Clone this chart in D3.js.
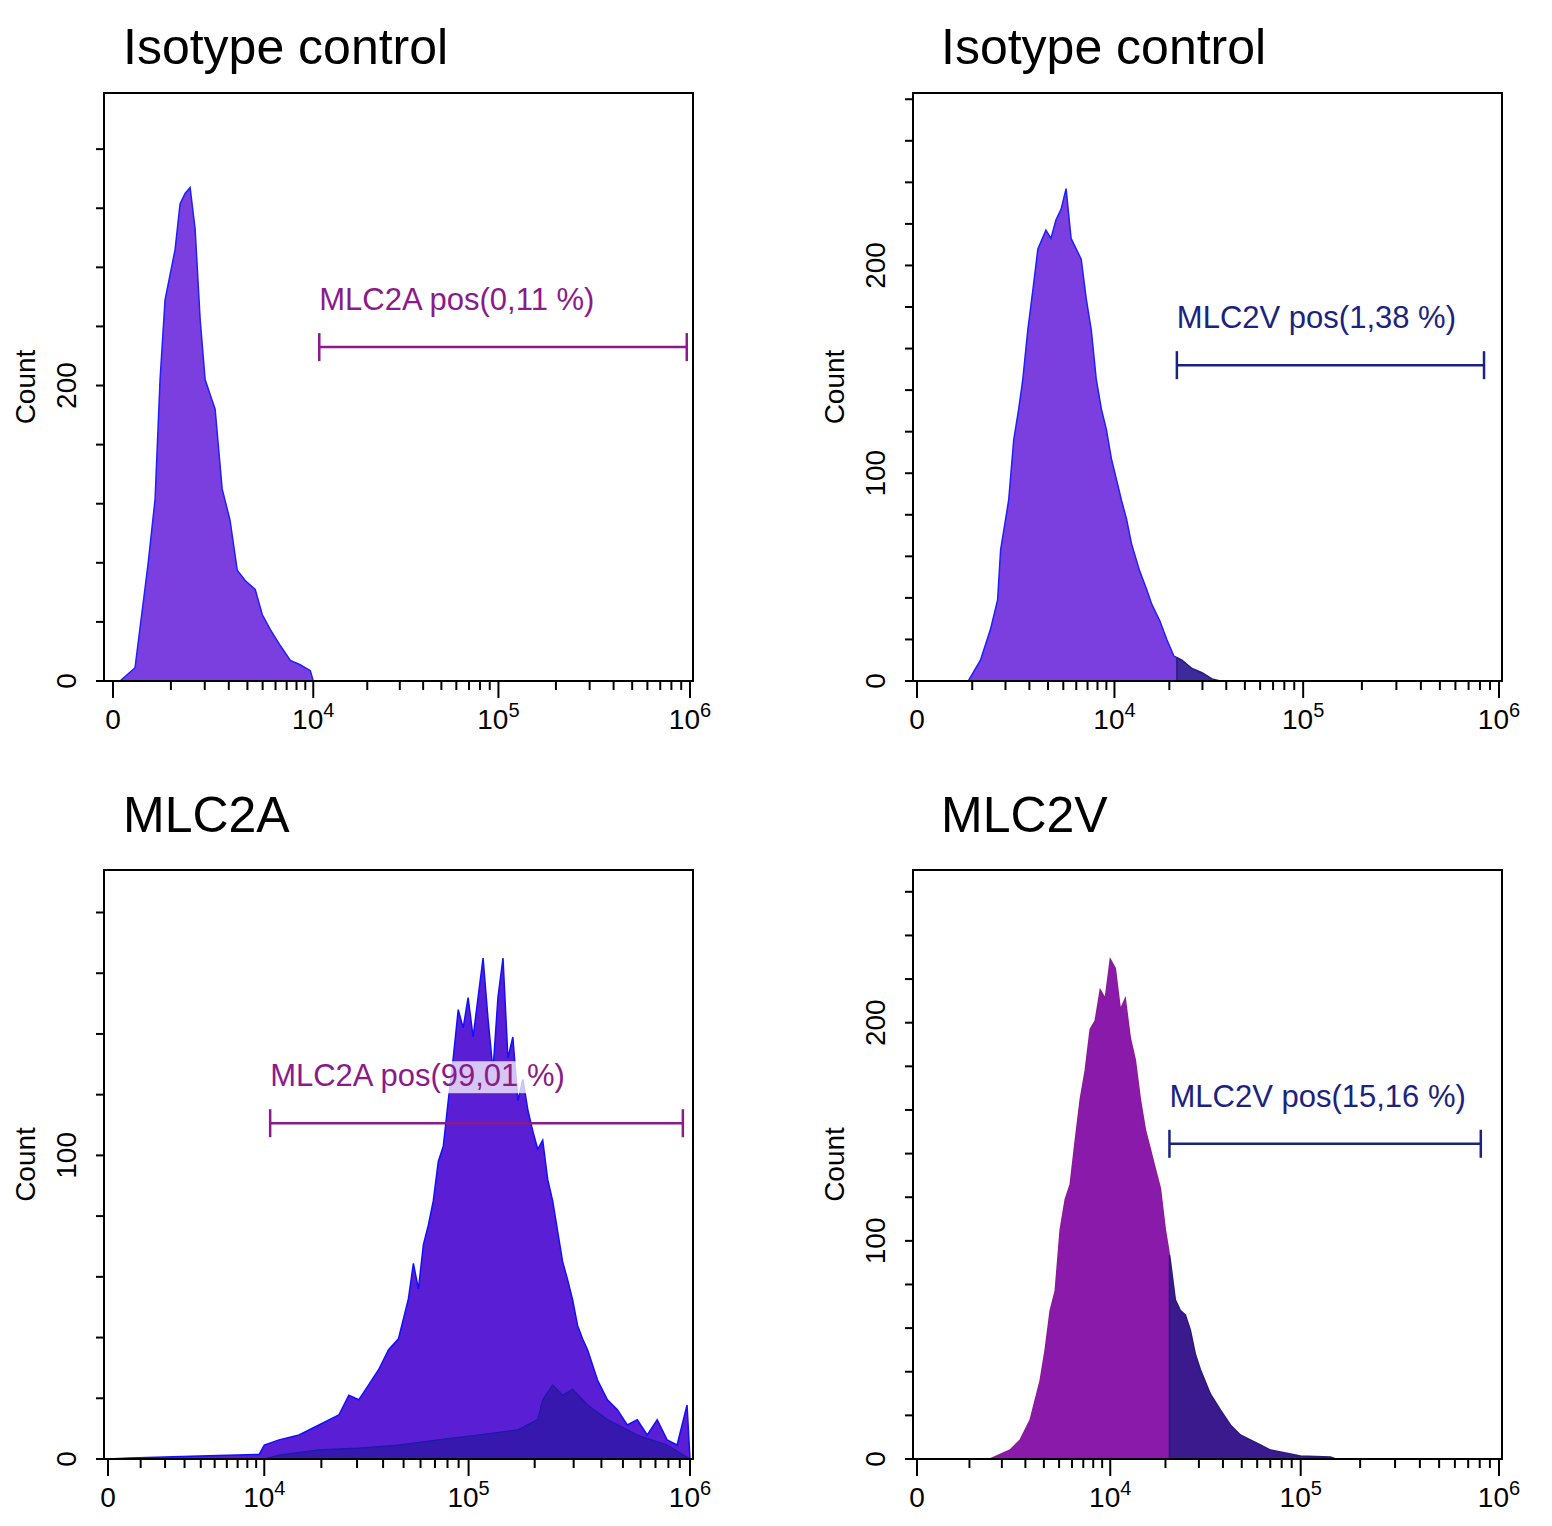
<!DOCTYPE html>
<html><head><meta charset="utf-8">
<script src="https://cdn.jsdelivr.net/npm/d3@7"></script>
<style>body{margin:0;background:#fff}text{font-family:"Liberation Sans",Arial,sans-serif}</style>
</head><body><svg id="c" width="1552" height="1526"></svg>
<script>
// ---- data ----
const titles = ["Isotype control","Isotype control","MLC2A","MLC2V"];
const gateLabels = ["MLC2A pos(0,11 %)","MLC2V pos(1,38 %)","MLC2A pos(99,01 %)","MLC2V pos(15,16 %)"];
const gateRange = [[10820,962000],[21950,839000],[10780,929000],[21000,810000]];
const gateCount = [226,152,110.6,144.5];
const yTickLabels = [[0,200],[0,100,200],[0,100],[0,100,200]];
const xMajor = [0,1e4,1e5,1e6];

const tlX = [0,88,302,521,655,757,865,1103,1233,1371,1517,1673,1838,2013,2199,2397,2695,3058,3426,3866,4490,4971,5569,6407,7357,8404,9620,10000];
const tlY = [0,0,9,79,123,204,258,292,323,330,334,306,245,204,194,184,130,109,75,68,62,45,35,24,14,11,7,0];

const trX = [906,1212,1502,1726,1827,2117,2312,2519,2694,2925,3169,3429,3875,4178,4499,4840,5200,5580,5990,6420,6875,7360,7875,8420,9000,9610,10260,10950,11680,12460,13800,15090,16070,17770,19390,21150,23350,26400,29850,33700,37200];
const trY = [0,10,25,39,63,87,116,131,145,169,188,208,217,213,222,227,237,213,208,203,184,169,145,131,121,107,97,87,78,66,53,44,37,29,20,12,10,6,4,1,0];

const blX = [0,632,3920,9365,10000,12060,15380,19440,24440,27360,30560,34120,38070,42450,47300,52670,55560,58640,61860,65220,68760,72550,76500,80630,84980,89640,94460,99500,104900,110500,116500,122700,129300,136200,143600,151200,159200,167800,176800,186200,196100,206500,217400,229100,241200,254000,267500,281800,296700,312400,329000,346500,384200,425800,472000,523000,580000,642800,712500,789500,875200,970000,1000000];
const blY = [0,0.3,1,1.5,4.6,6.3,7.9,11.2,14.5,21,19.5,24.4,29.4,36,39.6,52.8,64.4,56,70.6,77,85,98,103,118,132,148,142,152,139,152,165,145,128,152,165,132,139,118,125,115,108,102,105,92,85,75,65,59,52.5,44,39.6,36,26,19.5,16.2,11.2,12.9,7.9,12.9,6.3,4.6,17.8,0];
const bl2X = [10000,12060,19440,30560,47300,72550,110500,167800,206500,217400,241200,267500,296700,346500,425800,580000,789500,1000000];
const bl2Y = [0,1.3,3,3.6,4.6,6.3,7.9,9.6,13,19.5,24.4,21,23,17.8,13,7.9,4.6,0];

const brX = [1594,2321,2753,3239,3503,3784,4078,4393,4727,5080,5455,5852,6272,6720,7184,7685,8215,8778,9372,10008,10670,11385,12120,12915,13760,14650,15600,16600,17660,18790,19970,21230,22570,23990,25490,27080,28770,30540,34440,38820,43740,49200,55400,62400,70200,78960,99800,141700,150200];
const brY = [0,4.1,8.7,17.9,27,36,50,68,77,105,119,126,146,165,178,197,201,215,211,229,225,206,211,193,183,165,151,142,133,124,105,91,73,68,66,59,48,41,29.8,22.5,15.6,11,8.7,6.4,4.1,3.2,1.4,0.9,0];

// ---- layout ----
const panels = [
 {x0:104,x1:693,y0:93,y1:681,zero:113,c:1000,yMax:398,step:40,ty:50,tx:19,xs:tlX,ys:tlY,fill:"#7b3fe0",stroke:"#1f1fff",gate:"#8b1a8b",split:null},
 {x0:913,x1:1502,y0:93,y1:681,zero:917,c:1100,yMax:283,step:20,ty:50,tx:28,xs:trX,ys:trY,fill:"#7b3fe0",stroke:"#1f1fff",gate:"#1a237e",split:"#3d2a9c"},
 {x0:104,x1:693,y0:870,y1:1459,zero:108,c:2500,yMax:194,step:20,ty:818,tx:19,xs:blX,ys:blY,fill:"#5a1ed4",stroke:"#1010ff",gate:"#8b1a8b",split:null,over:true},
 {x0:913,x1:1502,y0:870,y1:1459,zero:917,c:1200,yMax:270,step:20,ty:818,tx:28,xs:brX,ys:brY,fill:"#8a1aaa",stroke:"#8b1a9b",gate:"#1a237e",split:"#3a1a8c"}
];
const svg = d3.select("#c");
const defs = svg.append("defs");
panels.forEach((p,i)=>{
  const x = d3.scaleSymlog().constant(p.c).domain([0,1e6]).range([p.zero, p.x1-3]);
  const y = d3.scaleLinear().domain([0,p.yMax]).range([p.y1,p.y0]);
  const g = svg.append("g");
  const data = p.xs.map((v,j)=>[v,p.ys[j]]);
  const area = d3.area().x(d=>x(d[0])).y0(y(0)).y1(d=>y(d[1]));
  const line = d3.line().x(d=>x(d[0])).y(d=>y(d[1]));
  const gx = x(gateRange[i][0]);
  if(p.split){
    defs.append("clipPath").attr("id","L"+i).append("rect").attr("x",0).attr("y",0).attr("width",gx).attr("height",1526);
    defs.append("clipPath").attr("id","R"+i).append("rect").attr("x",gx).attr("y",0).attr("width",1552-gx).attr("height",1526);
    g.append("path").datum(data).attr("d",area).attr("fill",p.fill).attr("clip-path",`url(#L${i})`);
    g.append("path").datum(data).attr("d",area).attr("fill",p.split).attr("clip-path",`url(#R${i})`);
    g.append("path").datum(data).attr("d",line).attr("fill","none").attr("stroke",p.stroke).attr("stroke-width",1.5).attr("clip-path",`url(#L${i})`);
    g.append("path").datum(data).attr("d",line).attr("fill","none").attr("stroke","#2a1a80").attr("stroke-width",1.5).attr("clip-path",`url(#R${i})`);
    const gv = gateRange[i][0], k = d3.bisectLeft(p.xs, gv);
    const t = (gv-p.xs[k-1])/(p.xs[k]-p.xs[k-1]);
    const hv = p.ys[k-1] + t*(p.ys[k]-p.ys[k-1]);
    g.append("line").attr("x1",gx).attr("x2",gx).attr("y1",y(0)).attr("y2",y(hv)).attr("stroke","#2a1a80").attr("stroke-width",1.5);
  } else {
    g.append("path").datum(data).attr("d",area).attr("fill",p.fill);
    g.append("path").datum(data).attr("d",line).attr("fill","none").attr("stroke",p.stroke).attr("stroke-width",1.5);
  }
  if(p.over){
    const d2 = bl2X.map((v,j)=>[v,bl2Y[j]]);
    g.append("path").datum(d2).attr("d",area).attr("fill","#3018a8").attr("opacity",0.85);
    g.append("path").datum(d2).attr("d",line).attr("fill","none").attr("stroke","#1c1aa8").attr("stroke-width",1.2);
  }
  g.append("rect").attr("x",p.x0).attr("y",p.y0).attr("width",p.x1-p.x0).attr("height",p.y1-p.y0).attr("fill","none").attr("stroke","#000").attr("stroke-width",2);
  const yt = d3.range(0,p.yMax+0.1,p.step);
  g.selectAll(".yt").data(yt).enter().append("line").attr("x1",p.x0-8).attr("x2",p.x0).attr("y1",d=>y(d)).attr("y2",d=>y(d)).attr("stroke","#000").attr("stroke-width",2);
  g.selectAll(".yl").data(yTickLabels[i]).enter().append("text").attr("transform",d=>`translate(${p.x0-38},${y(d)}) rotate(-90)`).attr("text-anchor","middle").attr("dy","0.35em").attr("font-size",28).text(d=>d);
  g.append("text").attr("transform",`translate(${p.x0-79},${(p.y0+p.y1)/2}) rotate(-90)`).attr("text-anchor","middle").attr("dy","0.35em").attr("font-size",28).text("Count");
  const minor=[];
  [1e3,1e4,1e5].forEach(b=>{for(let k=2;k<=9;k++)minor.push(b*k);});
  minor.push(1e3);
  g.selectAll(".xm").data(minor).enter().append("line").attr("x1",d=>x(d)).attr("x2",d=>x(d)).attr("y1",p.y1).attr("y2",p.y1+9).attr("stroke","#000").attr("stroke-width",2);
  g.selectAll(".xM").data(xMajor).enter().append("line").attr("x1",d=>x(d)).attr("x2",d=>x(d)).attr("y1",p.y1).attr("y2",p.y1+17).attr("stroke","#000").attr("stroke-width",2);
  g.append("line").attr("x1",p.x0-8).attr("x2",p.x1).attr("y1",p.y1).attr("y2",p.y1).attr("stroke","#000").attr("stroke-width",2);
  xMajor.forEach(v=>{
    const t = g.append("text").attr("x",x(v)).attr("y",p.y1+48).attr("text-anchor","middle").attr("font-size",28);
    if(v===0) t.text("0");
    else { t.append("tspan").text("10"); t.append("tspan").attr("dy",-12).attr("font-size",20).text(String(Math.round(Math.log10(v)))); }
  });
  g.append("text").attr("x",p.x0+p.tx).attr("y",p.ty+14).attr("font-size",50).text(titles[i]);
  const gy = y(gateCount[i]), gx2 = x(gateRange[i][1]);
  const lab = g.append("text").attr("x",gx).attr("y",gy-37).attr("font-size",31).attr("fill",p.gate).text(gateLabels[i]);
  if(p.over){
    const bb = lab.node().getBBox();
    g.insert("rect",()=>lab.node()).attr("x",bb.x).attr("y",bb.y+3).attr("width",bb.width).attr("height",bb.height-3).attr("fill","#fff").attr("opacity",0.75);
  }
  g.append("line").attr("x1",gx).attr("x2",gx2).attr("y1",gy).attr("y2",gy).attr("stroke",p.gate).attr("stroke-width",2.5);
  [gx,gx2].forEach(v=>g.append("line").attr("x1",v).attr("x2",v).attr("y1",gy-14).attr("y2",gy+14).attr("stroke",p.gate).attr("stroke-width",2.5));
});
</script></body></html>
